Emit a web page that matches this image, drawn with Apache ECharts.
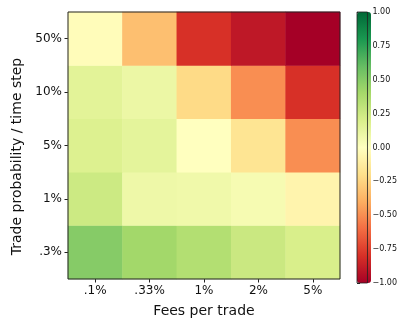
<!DOCTYPE html>
<html>
<head>
<meta charset="utf-8">
<script src="https://cdn.jsdelivr.net/npm/echarts@6/dist/echarts.min.js"></script>
<style>
  html, body { margin: 0; padding: 0; background: #fff; }
  #chart { width: 400px; height: 323px; }
</style>
</head>
<body>
<div id="chart"></div>
<script>
// Fee levels along x, trade probabilities along y (bottom to top)
const fees = ['.1%', '.33%', '1%', '2%', '5%'];
const probs = ['.3%', '1%', '5%', '10%', '50%'];

// Score per fee level, one array per trade probability
const prob_03 = [0.50, 0.41, 0.35, 0.26, 0.20];
const prob_1 = [0.25, 0.09, 0.08, 0.05, -0.07];
const prob_5 = [0.18, 0.14, 0.00, -0.17, -0.50];
const prob_10 = [0.15, 0.10, -0.22, -0.50, -0.80];
const prob_50 = [-0.02, -0.33, -0.80, -0.90, -1.00];

// Colour bar tick values
const cbarTicks = [-1, -0.75, -0.5, -0.25, 0, 0.25, 0.5, 0.75, 1];

// RdYlGn colour ramp, low to high
const rdylgn = ['#a50026', '#d73027', '#f46d43', '#fdae61', '#fee08b', '#ffffbf',
                '#d9ef8b', '#a6d96a', '#66bd63', '#1a9850', '#006837'];

const rows = [prob_03, prob_1, prob_5, prob_10, prob_50];
const cells = [];
rows.forEach((row, yi) => row.forEach((v, xi) => cells.push([xi, yi, v])));

const font = 'DejaVu Sans';
const txt = '#111';
const fmtTick = v => (v < 0 ? '\u2212' : '') + Math.abs(v).toFixed(2);

const chart = echarts.init(document.getElementById('chart'), null, { renderer: 'canvas' });
chart.setOption({
  animation: false,
  backgroundColor: '#fff',
  grid: [
    { left: 68, top: 12, width: 272, height: 271, show: true, borderColor: '#222', borderWidth: 1, backgroundColor: 'transparent', z: 5 },
    { left: 357, top: 12, width: 14, height: 271, show: true, borderColor: '#222', borderWidth: 0.8, backgroundColor: 'transparent', z: 5 }
  ],
  xAxis: [
    {
      type: 'category', data: fees, gridIndex: 0,
      name: 'Fees per trade', nameLocation: 'middle', nameGap: 25,
      nameTextStyle: { fontFamily: font, fontSize: 14, color: txt },
      axisLine: { show: false },
      axisTick: { show: true, alignWithLabel: true, length: 3.5, lineStyle: { color: '#222' } },
      axisLabel: { fontFamily: font, fontSize: 12, color: txt, margin: 6 },
      splitLine: { show: false }
    },
    { type: 'value', gridIndex: 1, show: false, min: 0, max: 1 }
  ],
  yAxis: [
    {
      type: 'category', data: probs, gridIndex: 0,
      name: 'Trade probability / time step', nameLocation: 'middle', nameGap: 30,
      nameTextStyle: { fontFamily: font, fontSize: 14, color: txt, padding: [0, 22, 0, 0] },
      axisLine: { show: false },
      axisTick: { show: true, alignWithLabel: true, length: 3.5, lineStyle: { color: '#222' } },
      axisLabel: { fontFamily: font, fontSize: 12, color: txt, margin: 6 },
      splitLine: { show: false }
    },
    {
      type: 'value', gridIndex: 1, position: 'right', min: -1, max: 1, interval: 0.25,
      axisLine: { show: false },
      axisTick: { show: true, length: 3, lineStyle: { color: '#222' } },
      axisLabel: { fontFamily: font, fontSize: 8, color: txt, margin: 5, formatter: fmtTick },
      splitLine: { show: false }
    }
  ],
  visualMap: {
    type: 'continuous', min: -1, max: 1, seriesIndex: 0,
    orient: 'vertical', left: 357, top: 12, itemWidth: 14, itemHeight: 271,
    padding: 0, calculable: false, hoverLink: false,
    inRange: { color: rdylgn }
  },
  series: [
    {
      type: 'heatmap', xAxisIndex: 0, yAxisIndex: 0, data: cells,
      itemStyle: { borderWidth: 0 },
      emphasis: { disabled: true }
    },
    {
      type: 'scatter', xAxisIndex: 1, yAxisIndex: 1, data: cbarTicks.map(v => [0.5, v]),
      symbolSize: 0, silent: true
    }
  ]
});
</script>
</body>
</html>
